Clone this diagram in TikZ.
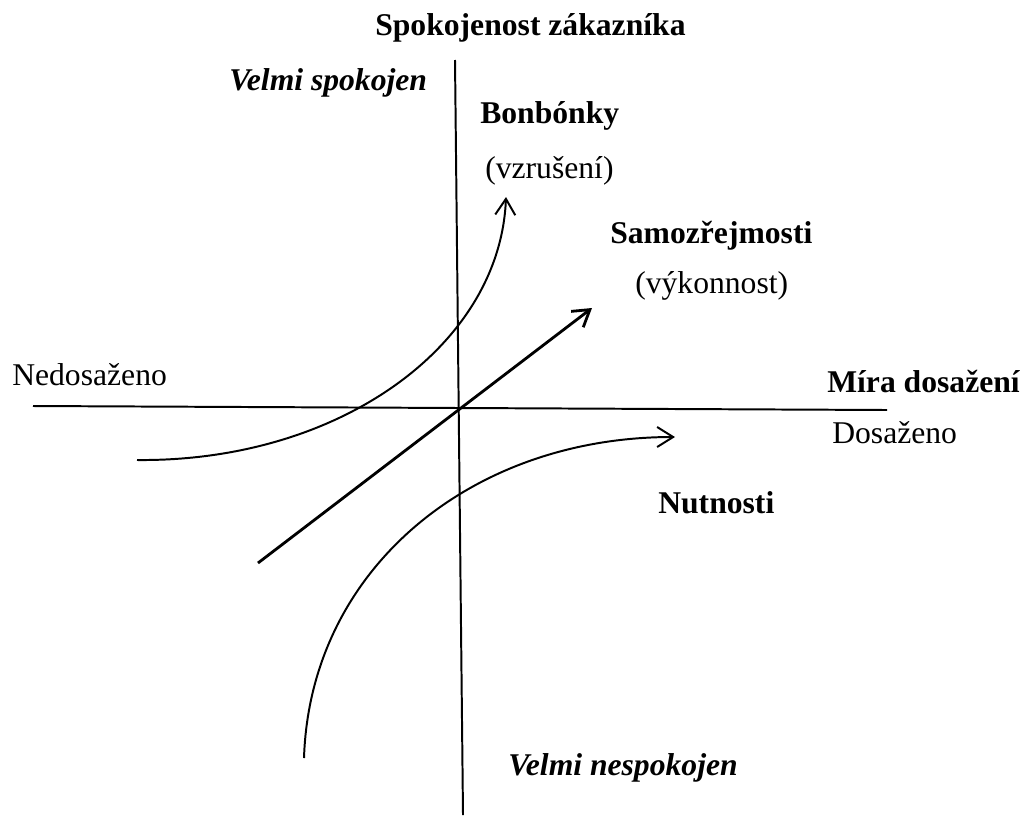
\documentclass[tikz,border=0pt]{standalone}
\usepackage{fontspec}
\setmainfont{Liberation Serif}
\usetikzlibrary{arrows.meta}
\tikzset{
  lbl/.style={anchor=base west, inner sep=0pt, font=\fontsize{22.5}{26}\selectfont},
  blbl/.style={lbl, font=\fontsize{22.5}{26}\selectfont\bfseries},
  ilbl/.style={lbl, font=\fontsize{22.5}{26}\selectfont\bfseries\itshape},
  axis/.style={line width=1.4pt},
  curve/.style={line width=1.4pt, -{Straight Barb[length=4mm,width=5mm]}}
}
\begin{document}
\begin{tikzpicture}[x=0.025cm, y=-0.025cm]
            \useasboundingbox (0,0) rectangle (1023,816);

            % axes
            \coordinate (ytop) at (455,60);
            \coordinate (ybot) at (463,815);
            \coordinate (xleft) at (33,406);
            \coordinate (xright) at (887,410);
            \draw[axis] (ytop) -- (ybot);
            \draw[axis] (xleft) -- (xright);

            % labels
            \node[blbl] (title) at (375,35) {Spokojenost zákazníka};
            \node[ilbl] (vspok) at (229,90) {Velmi spokojen};
            \node[ilbl] (vnespok) at (508,775) {Velmi nespokojen};
            \node[blbl] (bonb) at (480,123) {Bonbónky};
            \node[lbl] (vzrus) at (485,178) {(vzrušení)};
            \node[blbl] (samo) at (610,243) {Samozřejmosti};
            \node[lbl] (vykon) at (635,293) {(výkonnost)};
            \node[lbl] (nedos) at (12,385) {Nedosaženo};
            \node[blbl] (mira) at (827,392) {Míra dosažení};
            \node[lbl] (dosaz) at (832,443) {Dosaženo};
            \node[blbl] (nutn) at (658,513) {Nutnosti};

            % curves
            \coordinate (bstart) at (137,460);
            \coordinate (bend) at (506,197);
            \coordinate (sstart) at (258,563);
            \coordinate (send) at (592,308);
            \coordinate (nstart) at (304,758);
            \coordinate (nend) at (675,437);
            \draw[curve] (bstart) .. controls (340,462) and (500,345) .. (bend);
            \draw[curve, line width=2pt] (sstart) -- (send);
            \draw[curve] (nstart) .. controls (310,570) and (470,437) .. (nend);
        \end{tikzpicture}
\end{document}
